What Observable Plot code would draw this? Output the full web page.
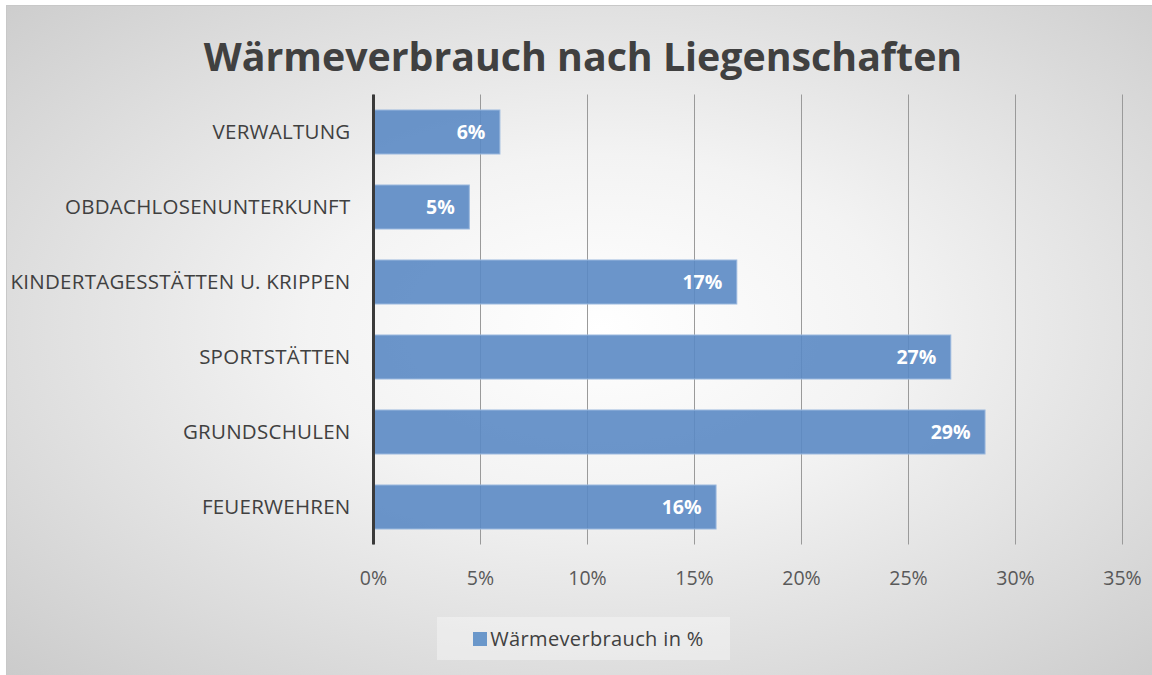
<!DOCTYPE html>
<html>
<head>
<meta charset="utf-8">
<script src="https://cdn.jsdelivr.net/npm/d3@7"></script>
<script src="https://cdn.jsdelivr.net/npm/@observablehq/plot@0.6"></script>
<style>
  html, body { margin: 0; padding: 0; background: #ffffff; }
  body { width: 1152px; height: 675px; position: relative; overflow: hidden; font-family: "Open Sans", sans-serif; }
  #frame { position: absolute; left: 6px; top: 5px; width: 1146px; height: 670px;
    background: radial-gradient(ellipse farthest-corner at 52% 48%, #ffffff 0%, #f3f3f3 35%, #cbcbcb 100%);
    border-top: 1px solid #c8c8c8; border-left: 1px solid #c8c8c8; box-sizing: border-box; }
  #title { position: absolute; left: 0; width: 1166px; top: 28px; text-align: center;
    font-size: 39.3px; font-weight: bold; color: #404040; line-height: 56px; }
  #chart { position: absolute; left: 0; top: 0; }
  #chart g[aria-label="y-axis tick label"] text { letter-spacing: 0.25px; }
  #legend { position: absolute; left: 437px; top: 617px; width: 293px; height: 43px; box-sizing: border-box; padding-left: 10px;
    background: rgba(248,248,248,0.45); display: flex; align-items: center; justify-content: center;
    font-size: 20px; letter-spacing: 0.35px; color: #404040; }
  #legend .sw { width: 14px; height: 14px; background: #6a97ca; margin-right: 3px; margin-top: 1px; }
</style>
</head>
<body>
<div id="frame"></div>
<div id="chart"></div>
<div id="title">Wärmeverbrauch nach Liegenschaften</div>
<div id="legend"><span class="sw"></span><span>Wärmeverbrauch in %</span></div>
<script>
const categories = ["VERWALTUNG", "OBDACHLOSENUNTERKUNFT", "KINDERTAGESSTÄTTEN U. KRIPPEN", "SPORTSTÄTTEN", "GRUNDSCHULEN", "FEUERWEHREN"];
const values = [0.0593, 0.045, 0.17, 0.27, 0.286, 0.1603];
const valueLabels = ["6%", "5%", "17%", "27%", "29%", "16%"];
const xTicks = [0, 0.05, 0.10, 0.15, 0.20, 0.25, 0.30, 0.35];
const xTickLabels = ["0%", "5%", "10%", "15%", "20%", "25%", "30%", "35%"];

const data = categories.map((c, i) => ({category: c, value: values[i], label: valueLabels[i]}));

const chart = Plot.plot({
  width: 1152,
  height: 600,
  marginLeft: 373,
  marginRight: 30,
  marginTop: 94.5,
  marginBottom: 55.5,
  style: {background: "transparent", fontFamily: "Open Sans, sans-serif"},
  x: {domain: [0, 0.35]},
  y: {domain: categories, paddingInner: 0.41, paddingOuter: 0.205},
  marks: [
    Plot.gridX(xTicks, {stroke: "#9a9a9a", strokeOpacity: 1, strokeWidth: 1}),
    Plot.barX(data, {x: "value", y: "category", fill: "#5b8ac4", fillOpacity: 0.9, stroke: "#9ab8de", strokeWidth: 1}),
    Plot.ruleX([0], {stroke: "#3a3a3a", strokeWidth: 3}),
    Plot.text(data, {x: "value", y: "category", text: "label", textAnchor: "end", dx: -15, fill: "white", fontWeight: "bold", fontSize: 19.5}),
    Plot.axisX({ticks: xTicks, tickFormat: (d, i) => xTickLabels[i], tickSize: 0, tickPadding: 26, fontSize: 19.5, color: "#595959", label: null}),
    Plot.axisY({tickSize: 0, tickPadding: 23, fontSize: 20.5, color: "#404040", label: null})
  ]
});
document.getElementById("chart").appendChild(chart);
</script>
</body>
</html>
